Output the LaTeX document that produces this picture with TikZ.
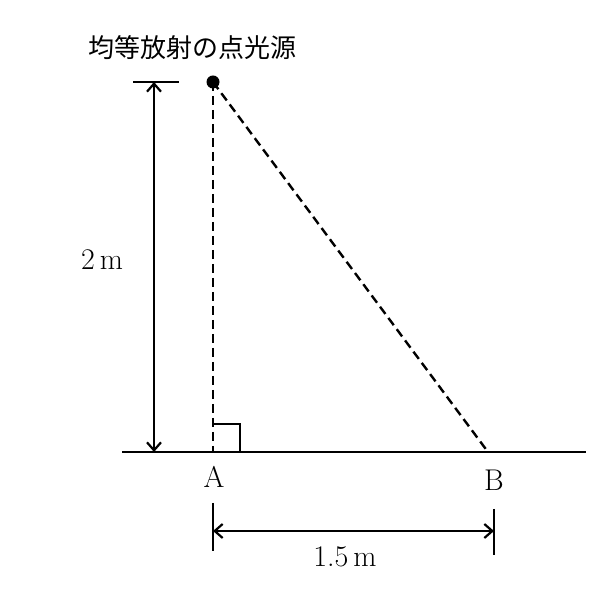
\documentclass[tikz,border=0pt]{standalone}
\usepackage{fontspec}
\newfontfamily\cjk{Noto Sans CJK JP}
\usetikzlibrary{arrows.meta}
\tikzset{
  dim/.style={line width=1.1pt,{Straight Barb[length=4pt,width=7pt]}-{Straight Barb[length=4pt,width=7pt]}},
  guide/.style={line width=1.2pt,dash pattern=on 4.5pt off 2.5pt},
  lbl/.style={inner sep=0pt,font=\fontsize{15}{17}\selectfont}
}
\begin{document}
\begin{tikzpicture}[x=0.5pt,y=0.5pt]
      \useasboundingbox (0,0) rectangle (600,610);
      \node[inner sep=0pt,font=\cjk\fontsize{13}{15}\selectfont] (title) at (192,562) {均等放射の点光源};
      \node[circle,fill,inner sep=0pt,minimum size=6.5pt] (src) at (213,528) {};
      \coordinate (A) at (213,158);
      \coordinate (B) at (488,158);
      \coordinate (gl) at (122,158);
      \coordinate (gr) at (586,158);
      \draw[line width=1.1pt] (gl) -- (gr);
      \draw[guide] (src.center) -- (A);
      \draw[guide] (src.center) -- (B);
      \draw[line width=1.1pt] (A) ++(0,28) -- ++(27,0) -- ++(0,-28);
      \coordinate (tl) at (133,528);
      \coordinate (tr) at (179,528);
      \draw[line width=1.1pt] (tl) -- (tr);
      \coordinate (h1) at (154,528);
      \coordinate (h2) at (154,158);
      \draw[dim] (h1) -- (h2);
      \node[lbl] (hgt) at (102,350) {2\,m};
      \node[lbl] (labA) at (214,133) {A};
      \node[lbl] (labB) at (494,130) {B};
      \coordinate (a1) at (213,107);
      \coordinate (a2) at (213,59);
      \coordinate (b1) at (494,101);
      \coordinate (b2) at (494,55);
      \draw[line width=1.1pt] (a1) -- (a2);
      \draw[line width=1.1pt] (b1) -- (b2);
      \coordinate (w1) at (213,79);
      \coordinate (w2) at (494,79);
      \draw[dim] (w1) -- (w2);
      \node[lbl] (wid) at (345,53) {1.5\,m};
\end{tikzpicture}
\end{document}
